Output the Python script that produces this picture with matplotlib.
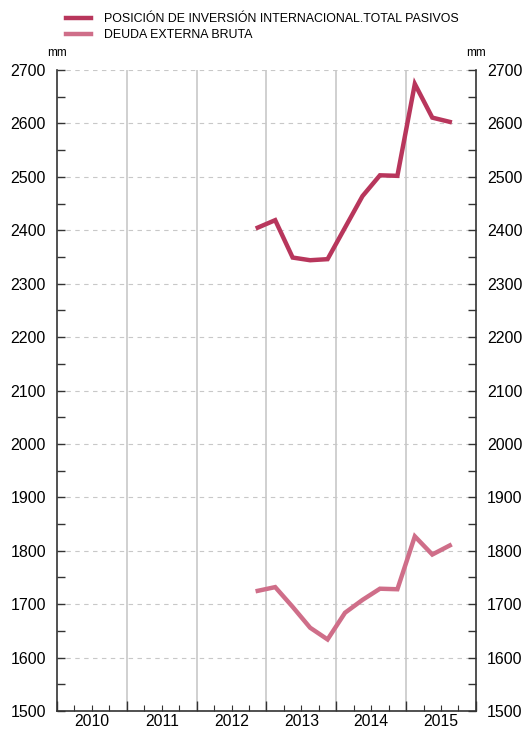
import matplotlib
matplotlib.use("Agg")
import matplotlib.pyplot as plt
from matplotlib.ticker import MultipleLocator, FixedLocator, NullFormatter

plt.rcParams['font.family'] = ['Liberation Sans', 'DejaVu Sans']

# trimestres desde 2012T4 hasta 2015T3
quarters = ["2012T4", "2013T1", "2013T2", "2013T3", "2013T4", "2014T1",
            "2014T2", "2014T3", "2014T4", "2015T1", "2015T2", "2015T3"]
pii_pasivos = [2405, 2419, 2349, 2344, 2346, 2405, 2464, 2503, 2502, 2674, 2611, 2603]
deuda_bruta = [1725, 1732, 1695, 1656, 1634, 1684, 1708, 1729, 1728, 1827, 1793, 1810]
years = [2010, 2011, 2012, 2013, 2014, 2015]
labels = ["POSICIÓN DE INVERSIÓN INTERNACIONAL.TOTAL PASIVOS", "DEUDA EXTERNA BRUTA"]
colors = ["#b8365c", "#cf6e89"]

# posicion decimal de cada trimestre
xpos = [int(q[:4]) + (int(q[-1]) - 0.5) / 4 for q in quarters]

fig = plt.figure(figsize=(5.23, 7.30), dpi=100)
ax = fig.add_axes([0.109, 0.026, 0.801, 0.878])

ax.plot(xpos, pii_pasivos, color=colors[0], lw=3.2, solid_joinstyle='miter', label=labels[0])
ax.plot(xpos, deuda_bruta, color=colors[1], lw=3.2, solid_joinstyle='miter', label=labels[1])

ax.set_xlim(years[0], years[-1] + 1)
ax.set_ylim(1500, 2700)

# rejilla
ax.yaxis.set_major_locator(MultipleLocator(100))
ax.yaxis.set_minor_locator(MultipleLocator(50))
ax.grid(axis='y', which='major', color='#c8c8c8', ls=(0, (4, 4)), lw=0.8)
for y in years[1:]:
    ax.axvline(y, color='#c8c8c8', lw=1.2, zorder=0)

ax.xaxis.set_major_locator(FixedLocator([y for y in years] + [years[-1] + 1]))
ax.xaxis.set_major_formatter(NullFormatter())
ax.xaxis.set_minor_locator(FixedLocator([y + q / 4 for y in years for q in (1, 2, 3)]))
for y in years:
    ax.text(y + 0.5, -0.004, str(y), transform=ax.get_xaxis_transform(),
            ha='center', va='top', fontsize=11.3)

ax.tick_params(axis='x', which='major', direction='in', length=7, width=1, color='#333333')
ax.tick_params(axis='x', which='minor', direction='in', length=4, width=0.8, color='#333333')
ax.tick_params(axis='y', which='both', direction='in', left=True, right=True,
               labelleft=True, labelright=True, color='#333333', width=1)
ax.tick_params(axis='y', which='major', length=6, labelsize=11.5, pad=8)
ax.tick_params(axis='y', which='minor', length=6)

ax.spines['top'].set_visible(False)
for s in ['left', 'right', 'bottom']:
    ax.spines[s].set_color('#333333')
    ax.spines[s].set_linewidth(1.2)

ax.text(0.0, 1.018, "mm", transform=ax.transAxes, ha='center', va='bottom', fontsize=8.5)
ax.text(1.0, 1.018, "mm", transform=ax.transAxes, ha='center', va='bottom', fontsize=8.5)

fig.legend(loc='upper left', bbox_to_anchor=(0.105, 0.997), frameon=False,
           fontsize=8.9, handlelength=2.0, handletextpad=1.05, labelspacing=0.3)

fig.savefig("out.png", dpi=100)
